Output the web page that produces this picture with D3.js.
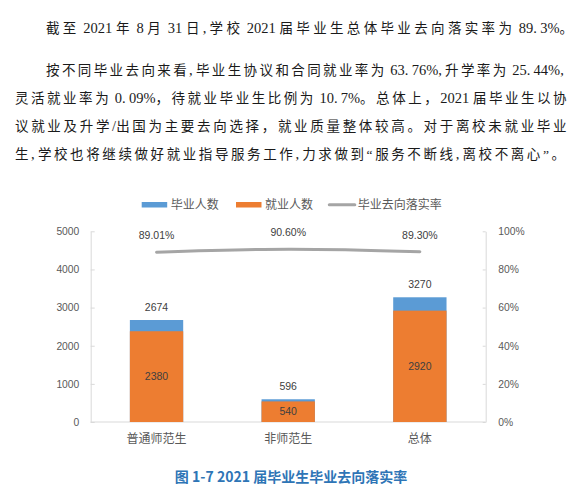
<!DOCTYPE html>
<html>
<head>
<meta charset="utf-8">
<script src="https://cdn.jsdelivr.net/npm/d3@7"></script>
<style>
  html, body { margin: 0; padding: 0; background: #fff; }
  svg { display: block; }
</style>
</head>
<body>
<svg id="chart" width="583" height="501"></svg>
<script>
// ---- data ----
const categories = ["普通师范生", "非师范生", "总体"];
const graduates = [2674, 596, 3270];      // 毕业人数
const employed = [2380, 540, 2920];       // 就业人数
const rates = [89.01, 90.60, 89.30];      // 毕业去向落实率 (%)
const leftTicks = [0, 1000, 2000, 3000, 4000, 5000];
const rightTicks = [0, 20, 40, 60, 80, 100];
const legendLabels = ["毕业人数", "就业人数", "毕业去向落实率"];
const paragraphLines = [
  "截至 2021 年 8 月 31 日,学校 2021 届毕业生总体毕业去向落实率为 89.3%。",
  "按不同毕业去向来看,毕业生协议和合同就业率为 63.76%,升学率为 25.44%,",
  "灵活就业率为 0.09%，待就业毕业生比例为 10.7%。总体上，2021 届毕业生以协",
  "议就业及升学/出国为主要去向选择，就业质量整体较高。对于离校未就业毕业",
  "生,学校也将继续做好就业指导服务工作,力求做到“服务不断线,离校不离心”。"
];
const caption = "图 1-7 2021 届毕业生毕业去向落实率";

// ---- layout ----
const svg = d3.select("#chart");
svg.append("rect").attr("width", 583).attr("height", 501).attr("fill", "#fff");

const serif = "'Liberation Serif', 'Noto Sans CJK SC', serif";
const sans = "'Liberation Sans', 'Noto Sans CJK SC', sans-serif";
const cjk = "'Noto Sans CJK SC', sans-serif";

// paragraph text: half-width punctuation padded to half-em cells,
// remaining justification space distributed over wide (CJK) characters
const fs = 13.5;
const fsNarrow = 14.5;
const lineLayout = [
  {x: 46, y: 28.5, end: 573},
  {x: 46, y: 70, end: 567},
  {x: 15, y: 98.5, end: 566.5},
  {x: 15, y: 126.5, end: 566.5},
  {x: 15, y: 154, end: 565}
];
const wideRe = /[^\u0000-\u00ff]/;
paragraphLines.forEach((line, i) => {
  const L = lineLayout[i];
  const t = svg.append("text")
    .attr("x", L.x).attr("y", L.y).attr("dy", "0.36em")
    .attr("font-family", serif).attr("font-size", fs).attr("fill", "#1a1a1a");
  const runs = line.match(/[^\u0000-\u00ff]+|[.,]+|[^.,\u0100-\uffff]+/g);
  runs.forEach(r => {
    const cls = wideRe.test(r) ? "w" : (/^[.,]+$/.test(r) ? "p" : "n");
    t.append("tspan").attr("class", cls).text(r);
  });
  t.selectAll("tspan.n, tspan.p").attr("font-size", fsNarrow);
  t.selectAll("tspan.p").attr("letter-spacing", fsNarrow * 0.22);
  const natural = t.node().getComputedTextLength();
  const wide = (line.match(/[^\u0000-\u00ff]/g) || []).length;
  const lastWide = wideRe.test(line.slice(-1)) ? 1 : 0;
  const n = Math.max(1, wide - lastWide);
  const ls = Math.max(0, (L.end - L.x - natural) / n);
  t.selectAll("tspan.w").attr("letter-spacing", ls);
});

// scales
const x = d3.scaleBand().domain(categories).range([90.7, 485.7])
  .paddingInner(0.595).paddingOuter(0.2975);
const y = d3.scaleLinear().domain([0, 5000]).range([422, 231.3]);
const y2 = d3.scaleLinear().domain([0, 100]).range([422, 231.3]);

const axisColor = "#d9d9d9";
const labelColor = "#595959";

// left axis
const gL = svg.append("g").attr("transform", "translate(90.7,0)")
  .call(d3.axisLeft(y).tickValues(leftTicks).tickSizeInner(-4).tickSizeOuter(0).tickPadding(11.4)
    .tickFormat(d3.format("d")));
// right axis
const gR = svg.append("g").attr("transform", "translate(485.7,0)")
  .call(d3.axisRight(y2).tickValues(rightTicks).tickSizeInner(-3).tickSizeOuter(0).tickPadding(12.6)
    .tickFormat(d => d + "%"));
[gL, gR].forEach(g => {
  g.select(".domain").attr("stroke", axisColor);
  g.selectAll(".tick line").attr("stroke", axisColor);
  g.selectAll(".tick text").attr("fill", labelColor)
    .attr("font-family", sans).attr("font-size", 10.3);
});
// baseline
svg.append("line").attr("x1", 90.7).attr("x2", 485.7)
  .attr("y1", y(0)).attr("y2", y(0)).attr("stroke", axisColor);

// bars (overlapping: graduates behind, employed in front)
const rows = categories.map((c, i) => ({c, g: graduates[i], e: employed[i], r: rates[i]}));
svg.append("g").selectAll("rect").data(rows).join("rect")
  .attr("x", d => x(d.c)).attr("width", x.bandwidth())
  .attr("y", d => y(d.g)).attr("height", d => y(0) - y(d.g))
  .attr("fill", "#5b9bd5");
svg.append("g").selectAll("rect").data(rows).join("rect")
  .attr("x", d => x(d.c)).attr("width", x.bandwidth())
  .attr("y", d => y(d.e)).attr("height", d => y(0) - y(d.e))
  .attr("fill", "#ed7d31");

// bar labels
svg.append("g").selectAll("text").data(rows).join("text")
  .attr("x", d => x(d.c) + x.bandwidth() / 2)
  .attr("y", d => y(d.g) - 13).attr("dy", "0.35em")
  .attr("text-anchor", "middle").attr("font-family", sans).attr("font-size", 10.5)
  .attr("fill", "#404040").text(d => d.g);
svg.append("g").selectAll("text").data(rows).join("text")
  .attr("x", d => x(d.c) + x.bandwidth() / 2)
  .attr("y", d => (y(d.e) + y(0)) / 2).attr("dy", "0.35em")
  .attr("text-anchor", "middle").attr("font-family", sans).attr("font-size", 10.5)
  .attr("fill", "#404040").text(d => d.e);

// rate line
const line = d3.line()
  .x(d => x(d.c) + x.bandwidth() / 2)
  .y(d => y2(d.r))
  .curve(d3.curveCatmullRom.alpha(0.5));
svg.append("path").datum(rows).attr("d", line)
  .attr("fill", "none").attr("stroke", "#a5a5a5").attr("stroke-width", 3)
  .attr("stroke-linecap", "round");
svg.append("g").selectAll("text").data(rows).join("text")
  .attr("x", d => x(d.c) + x.bandwidth() / 2)
  .attr("y", d => y2(d.r) - 16.5).attr("dy", "0.35em")
  .attr("text-anchor", "middle").attr("font-family", sans).attr("font-size", 10.5)
  .attr("fill", "#404040").text(d => d.r.toFixed(2) + "%");

// x labels
svg.append("g").selectAll("text").data(categories).join("text")
  .attr("x", d => x(d) + x.bandwidth() / 2).attr("y", 438.3).attr("dy", "0.36em")
  .attr("text-anchor", "middle").attr("font-family", cjk).attr("font-size", 12)
  .attr("fill", labelColor).text(d => d);

// legend
const legendPos = [{sx: 141.7, tx: 170.7}, {sx: 236, tx: 265}, {sx: 329.3, tx: 357.7}];
const legendColors = ["#5b9bd5", "#ed7d31", "#a5a5a5"];
const lg = svg.append("g");
legendLabels.forEach((t, i) => {
  if (i < 2) {
    lg.append("rect").attr("x", legendPos[i].sx).attr("y", 202).attr("width", 25.5).attr("height", 5.5)
      .attr("fill", legendColors[i]);
  } else {
    lg.append("line").attr("x1", legendPos[i].sx).attr("x2", legendPos[i].sx + 25.5)
      .attr("y1", 204.7).attr("y2", 204.7).attr("stroke", legendColors[i]).attr("stroke-width", 3)
      .attr("stroke-linecap", "round");
  }
  lg.append("text").attr("x", legendPos[i].tx).attr("y", 204.5).attr("dy", "0.36em")
    .attr("font-family", cjk).attr("font-size", 12).attr("fill", labelColor).text(t);
});

// caption
svg.append("text").attr("x", 291).attr("y", 476.7).attr("dy", "0.36em")
  .attr("text-anchor", "middle").attr("font-family", cjk).attr("font-weight", "bold")
  .attr("font-size", 14).attr("fill", "#2e75b6").text(caption);
</script>
</body>
</html>
